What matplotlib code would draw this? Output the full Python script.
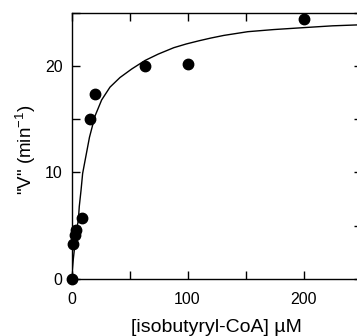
import matplotlib
matplotlib.use("Agg")
import matplotlib.pyplot as plt
from matplotlib.ticker import MultipleLocator

# measured points
conc = [0, 1.5, 3.0, 4.0, 8.8, 16.0, 20.5, 63.0, 100.0, 200.0]
rate = [0, 3.3, 4.1, 4.6, 5.7, 15.0, 17.4, 20.0, 20.2, 24.4]

# fitted curve
fit_conc = [0, 1.5, 3.0, 4.7, 5.9, 6.7, 8.2, 9.6, 11.5, 15.5, 20.3, 26.0, 33.2,
            41.8, 51.9, 63.4, 74.8, 88.2, 99.0, 110, 120, 131.3, 152, 174.4,
            203, 225, 250]
fit_rate = [0, 1.8, 3.3, 4.8, 5.5, 6.8, 8.3, 9.9, 11.0, 13.3, 15.3, 16.8, 18.0,
            18.9, 19.7, 20.5, 21.1, 21.7, 22.05, 22.35, 22.6, 22.85, 23.2, 23.4,
            23.6, 23.75, 23.85]

plt.rcParams['font.family'] = ['Liberation Sans', 'DejaVu Sans']
plt.rcParams['mathtext.fontset'] = 'custom'
plt.rcParams['mathtext.rm'] = 'Liberation Sans'
plt.rcParams['mathtext.default'] = 'regular'

fig = plt.figure(figsize=(3.57, 3.36), dpi=100)
ax = fig.add_axes([71.5 / 357, 57 / 336, 290 / 357, 266.5 / 336])

ax.plot(fit_conc, fit_rate, color='black', lw=1.0, zorder=2)
ax.plot(conc, rate, 'o', color='black', ms=7.5, zorder=3, clip_on=False)

ax.set_xlim(0, 250)
ax.set_ylim(0, 25)
ax.xaxis.set_major_locator(MultipleLocator(100))
ax.xaxis.set_minor_locator(MultipleLocator(50))
ax.yaxis.set_major_locator(MultipleLocator(10))
ax.yaxis.set_minor_locator(MultipleLocator(5))

for which in ('major', 'minor'):
    ax.tick_params(which=which, direction='in', length=6, width=1.0,
                   top=True, right=True)
ax.tick_params(axis='x', labelsize=11.5, pad=9)
ax.tick_params(axis='y', labelsize=11.5, pad=6.5)

for s in ax.spines.values():
    s.set_linewidth(1.0)

ax.set_xlabel('[isobutyryl-CoA] \u00b5M', fontsize=14, labelpad=9)
ax.set_ylabel('"V" (min$^{-1}$)', fontsize=13.5, labelpad=5)
ax.yaxis.label.set_y(0.485)

fig.savefig('out.png', dpi=100)
